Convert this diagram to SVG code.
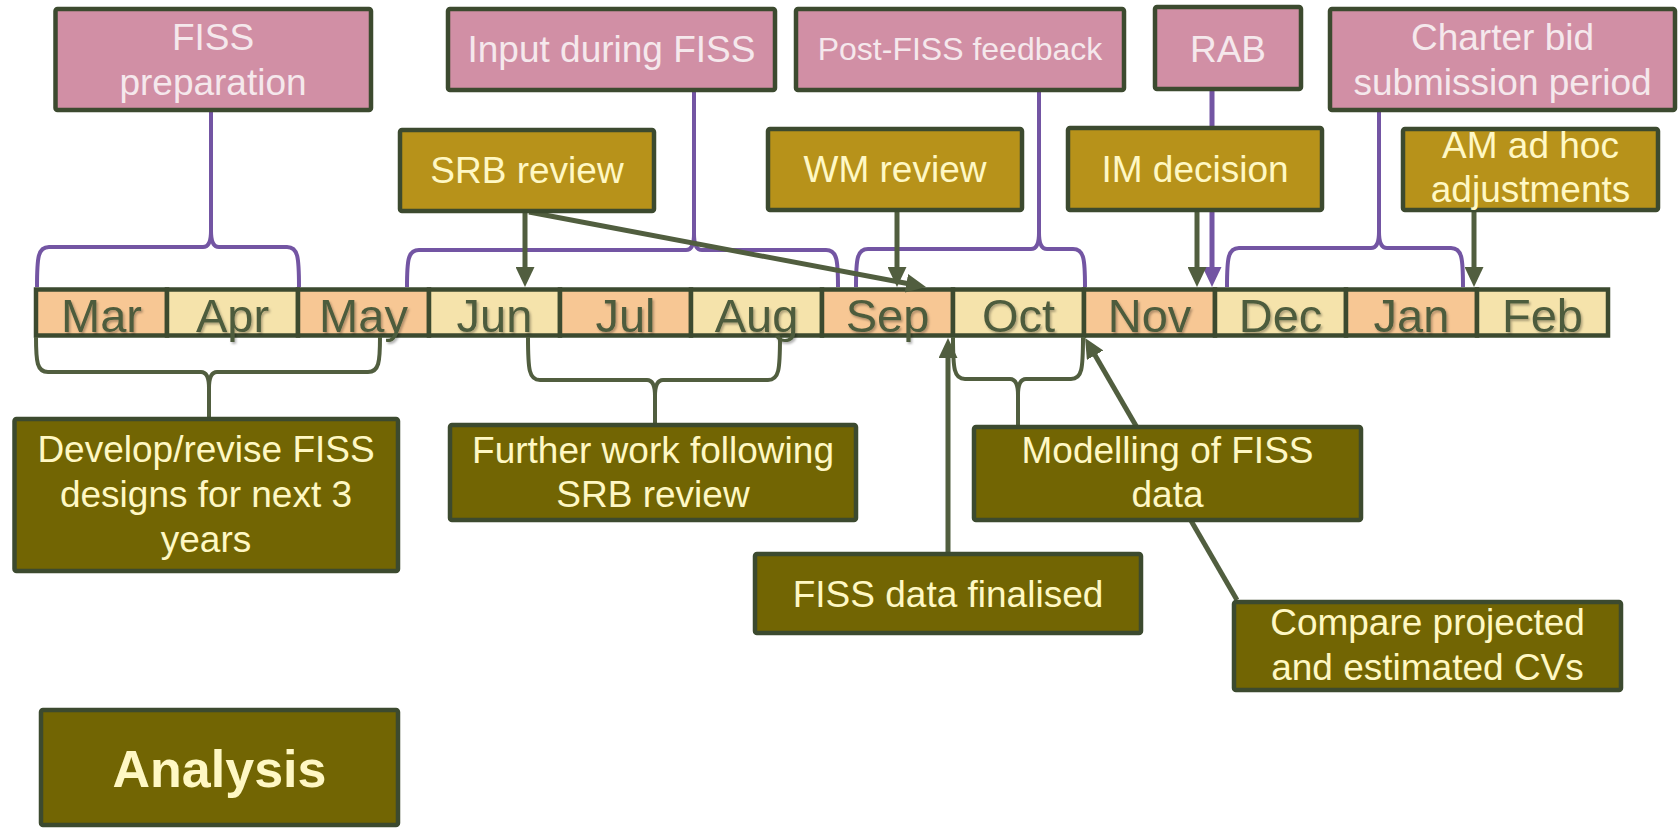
<svg xmlns="http://www.w3.org/2000/svg" width="1680" height="828" viewBox="0 0 1680 828">
  <defs>
    <style>
      .box { stroke: #3c4a2f; stroke-width: 4.5; stroke-linejoin: round; }
      .pink { fill: #d18fa5; }
      .gold { fill: #b7921a; }
      .olive { fill: #726503; }
      .t { font-family: "Liberation Sans", Arial, sans-serif; font-size: 37px; text-anchor: middle; }
      .tp { fill: #f5e8ec; }
      .tc { fill: #fff8c4; }
      .cell { stroke: #3c4a2f; stroke-width: 4.5; }
      .c1 { fill: #f7c794; }
      .c2 { fill: #f5e3ab; }
      .month { font-family: "Liberation Sans", Arial, sans-serif; font-size: 47px; text-anchor: middle; fill: #4e5c3c; filter: url(#shadow); }
      .brP { fill: none; stroke: #7355a3; stroke-width: 4; stroke-linejoin: round; }
      .brG { fill: none; stroke: #515e3f; stroke-width: 4; stroke-linejoin: round; }
      .arG { stroke: #515e3f; stroke-width: 5; fill: none; marker-end: url(#headG); }
      .arP { stroke: #7355a3; stroke-width: 5; fill: none; marker-end: url(#headP); }
    </style>
    <marker id="headG" markerWidth="20" markerHeight="19" refX="5" refY="9.5" orient="auto" markerUnits="userSpaceOnUse">
      <path d="M0,0 L20,9.5 L0,19 z" fill="#515e3f"/>
    </marker>
    <marker id="headP" markerWidth="20" markerHeight="19" refX="5" refY="9.5" orient="auto" markerUnits="userSpaceOnUse">
      <path d="M0,0 L20,9.5 L0,19 z" fill="#7355a3"/>
    </marker>
    <filter id="shadow" x="-10%" y="-10%" width="130%" height="140%">
      <feDropShadow dx="1.5" dy="2" stdDeviation="1.2" flood-color="#000" flood-opacity="0.3"/>
    </filter>
  </defs>

  <!-- month bar -->
  <g id="timeline">
    <rect class="cell c1" x="36" y="289.5" width="131" height="46"/>
    <rect class="cell c2" x="167" y="289.5" width="131" height="46"/>
    <rect class="cell c1" x="298" y="289.5" width="131" height="46"/>
    <rect class="cell c2" x="429" y="289.5" width="131" height="46"/>
    <rect class="cell c1" x="560" y="289.5" width="131" height="46"/>
    <rect class="cell c2" x="691" y="289.5" width="131" height="46"/>
    <rect class="cell c1" x="822" y="289.5" width="131" height="46"/>
    <rect class="cell c2" x="953" y="289.5" width="131" height="46"/>
    <rect class="cell c1" x="1084" y="289.5" width="131" height="46"/>
    <rect class="cell c2" x="1215" y="289.5" width="131" height="46"/>
    <rect class="cell c1" x="1346" y="289.5" width="131" height="46"/>
    <rect class="cell c2" x="1477" y="289.5" width="131" height="46"/>
    <text class="month" x="101.5" y="332">Mar</text>
    <text class="month" x="232.5" y="332">Apr</text>
    <text class="month" x="363.5" y="332">May</text>
    <text class="month" x="494.5" y="332">Jun</text>
    <text class="month" x="625.5" y="332">Jul</text>
    <text class="month" x="756.5" y="332">Aug</text>
    <text class="month" x="887.5" y="332">Sep</text>
    <text class="month" x="1018.5" y="332">Oct</text>
    <text class="month" x="1149.5" y="332">Nov</text>
    <text class="month" x="1280.5" y="332">Dec</text>
    <text class="month" x="1411.5" y="332">Jan</text>
    <text class="month" x="1542.5" y="332">Feb</text>
  </g>

  <!-- braces and arrows -->
  <g id="connectors">
    <path class="brP" d="M37,287 C37,257 38,247 49,247 L203,247 C209,247 211,241 211,231 L211,112 M211,231 C211,241 213,247 219,247 L287,247 C298,247 299,257 299,287"/>
    <path class="brP" d="M407,287 C407,260 408,250 419,250 L686,250 C692,250 694,244 694,234 L694,92 M694,234 C694,244 696,250 702,250 L826,250 C837,250 838,260 838,287"/>
    <path class="brP" d="M856,287 C856,259 857,249 868,249 L1031,249 C1037,249 1039,243 1039,233 L1039,92 M1039,233 C1039,243 1041,249 1047,249 L1073,249 C1084,249 1085,259 1085,287"/>
    <path class="brP" d="M1227,287 C1227,258 1228,248 1239,248 L1371,248 C1377,248 1379,242 1379,232 L1379,112 M1379,232 C1379,242 1381,248 1387,248 L1451,248 C1462,248 1463,258 1463,287"/>
    <line class="arP" x1="1212" y1="91" x2="1212" y2="272"/>

    <path class="brG" d="M36,337 C36,362 37,372 48,372 L201,372 C207,372 209,378 209,388 L209,417 M209,388 C209,378 211,372 217,372 L368,372 C379,372 380,362 380,337"/>
    <path class="brG" d="M528,337 C528,370 529,380 540,380 L647,380 C653,380 655,386 655,396 L655,423 M655,396 C655,386 657,380 663,380 L768,380 C779,380 780,370 780,337"/>
    <path class="brG" d="M953,337 C953,369 954,379 965,379 L1010,379 C1016,379 1018,385 1018,395 L1018,425 M1018,395 C1018,385 1020,379 1026,379 L1071,379 C1082,379 1083,369 1083,337"/>

    <line class="arG" x1="525" y1="213" x2="525" y2="272"/>
    <line class="arG" x1="529" y1="212" x2="911.3" y2="284.3"/>
    <line class="arG" x1="897" y1="212" x2="897" y2="272"/>
    <line class="arG" x1="1197" y1="212" x2="1197" y2="272"/>
    <line class="arG" x1="1474" y1="212" x2="1474" y2="272"/>
    <line class="arG" x1="948" y1="552" x2="948" y2="353"/>
    <line class="arG" x1="1237" y1="600" x2="1092.6" y2="350.9"/>
  </g>

  <!-- upper row: review and feedback stages -->
  <g id="fiss-preparation">
    <rect class="box pink" x="55.5" y="9" width="315.5" height="101" rx="2"/>
    <text class="t tp" x="213" y="50">FISS</text>
    <text class="t tp" x="213" y="95">preparation</text>
  </g>
  <g id="input-during-fiss">
    <rect class="box pink" x="448" y="9" width="327" height="81" rx="2"/>
    <text class="t tp" x="611.5" y="62">Input during FISS</text>
  </g>
  <g id="post-fiss-feedback">
    <rect class="box pink" x="796" y="9" width="328" height="81" rx="2"/>
    <text class="t tp" x="960" y="60" style="font-size:32px">Post-FISS feedback</text>
  </g>
  <g id="rab">
    <rect class="box pink" x="1155" y="7" width="146" height="82" rx="2"/>
    <text class="t tp" x="1228" y="62">RAB</text>
  </g>
  <g id="charter-bid">
    <rect class="box pink" x="1330" y="9" width="345" height="101" rx="2"/>
    <text class="t tp" x="1502.5" y="50">Charter bid</text>
    <text class="t tp" x="1502.5" y="95">submission period</text>
  </g>

  <g id="srb-review">
    <rect class="box gold" x="400" y="130" width="254" height="81" rx="2"/>
    <text class="t tc" x="527" y="183">SRB review</text>
  </g>
  <g id="wm-review">
    <rect class="box gold" x="768" y="129" width="254" height="81" rx="2"/>
    <text class="t tc" x="895" y="182">WM review</text>
  </g>
  <g id="im-decision">
    <rect class="box gold" x="1068" y="128" width="254" height="82" rx="2"/>
    <text class="t tc" x="1195" y="182">IM decision</text>
  </g>
  <g id="am-adjustments">
    <rect class="box gold" x="1403" y="129" width="255" height="81" rx="2"/>
    <text class="t tc" x="1530.5" y="158">AM ad hoc</text>
    <text class="t tc" x="1530.5" y="202">adjustments</text>
  </g>

  <!-- lower row: analysis tasks -->
  <g id="develop-designs">
    <rect class="box olive" x="14.5" y="419" width="383.5" height="152" rx="2"/>
    <text class="t tc" x="206" y="462">Develop/revise FISS</text>
    <text class="t tc" x="206" y="507">designs for next 3</text>
    <text class="t tc" x="206" y="552">years</text>
  </g>
  <g id="further-work">
    <rect class="box olive" x="450" y="425" width="406" height="95" rx="2"/>
    <text class="t tc" x="653" y="463">Further work following</text>
    <text class="t tc" x="653" y="507">SRB review</text>
  </g>
  <g id="modelling">
    <rect class="box olive" x="974" y="427" width="387" height="93" rx="2"/>
    <text class="t tc" x="1167.5" y="463">Modelling of FISS</text>
    <text class="t tc" x="1167.5" y="507">data</text>
  </g>
  <g id="data-finalised">
    <rect class="box olive" x="755" y="554" width="386" height="79" rx="2"/>
    <text class="t tc" x="948" y="607">FISS data finalised</text>
  </g>
  <g id="compare-cvs">
    <rect class="box olive" x="1234" y="602" width="387" height="88" rx="2"/>
    <text class="t tc" x="1427.5" y="635">Compare projected</text>
    <text class="t tc" x="1427.5" y="680">and estimated CVs</text>
  </g>
  <g id="analysis">
    <rect class="box olive" x="41" y="710" width="357" height="115" rx="2"/>
    <text class="t tc" x="219.5" y="787" style="font-size:52px;font-weight:bold">Analysis</text>
  </g>
</svg>
